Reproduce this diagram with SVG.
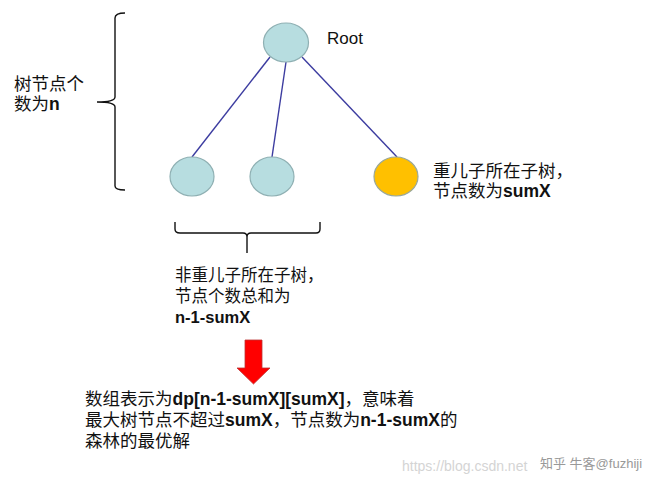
<svg xmlns="http://www.w3.org/2000/svg" width="654" height="486" viewBox="0 0 654 486">
<style>
.t{font-family:"Liberation Sans","Noto Sans CJK SC",sans-serif;font-size:17px;fill:#111}
.b{font-weight:bold}
.node{fill:#b7dde0;stroke:#8fb0b3;stroke-width:1.2}
.heavy{fill:#ffc000;stroke:#9aa89a;stroke-width:1.2}
.edge{stroke:#3c3ca0;stroke-width:1.4;fill:none}
.brace{stroke:#111;stroke-width:1.4;fill:none}
.wm{font-family:"Liberation Sans","Noto Sans CJK SC",sans-serif;font-size:14px}
</style>
<rect width="654" height="486" fill="#fff"/>
<g id="connectors">
<line class="edge" x1="270" y1="57" x2="192" y2="157"/>
<line class="edge" x1="286" y1="62" x2="272" y2="157"/>
<line class="edge" x1="302" y1="57" x2="397" y2="157"/>
</g>
<g id="root"><ellipse class="node" cx="286" cy="42.5" rx="22.5" ry="19.5"/><text class="t" x="327" y="44">Root</text></g>
<g id="child1"><ellipse class="node" cx="192" cy="176.5" rx="22" ry="19.5"/></g>
<g id="child2"><ellipse class="node" cx="272" cy="176.5" rx="22" ry="19.5"/></g>
<g id="heavy"><ellipse class="heavy" cx="396" cy="176.5" rx="22" ry="19.5"/>
<text class="t" x="433" y="177" style="font-size:17.5px">重儿子所在子树，</text>
<text class="t" x="433" y="197" style="font-size:17.5px">节点数为<tspan class="b">sumX</tspan></text></g>
<g id="left-brace">
<path class="brace" d="M125,13 Q115,13 115,18 L115,97 Q115,102 97,102 Q115,102 115,107 L115,186 Q115,190 125,190"/>
<text class="t" x="14" y="90" style="font-size:17.5px">树节点个</text>
<text class="t" x="14" y="110" style="font-size:17.5px">数为<tspan class="b">n</tspan></text>
</g>
<g id="bottom-brace">
<path class="brace" d="M175,222 L175,229 Q175,233 180,233 L243,233 Q247,233 247,237 L247,253 M247,237 Q247,233 251,233 L316,233 Q320,233 320,229 L320,222"/>
<text class="t" x="175" y="281" style="font-size:16.5px">非重儿子所在子树，</text>
<text class="t" x="175" y="302" style="font-size:16.5px">节点个数总和为</text>
<text class="t b" x="175" y="323" style="font-size:16.5px">n-1-sumX</text>
</g>
<g id="arrow"><path d="M245,340 L262,340 L262,368 L270,368 L253.5,384 L237,368 L245,368 Z" fill="#f00" stroke="#b33" stroke-width="0.8"/></g>
<g id="result">
<text class="t" x="85" y="405" style="font-size:17.5px">数组表示为<tspan class="b">dp[n-1-sumX][sumX]</tspan>，意味着</text>
<text class="t" x="85" y="426" style="font-size:17.5px">最大树节点不超过<tspan class="b">sumX</tspan>，节点数为<tspan class="b">n-1-sumX</tspan>的</text>
<text class="t" x="85" y="447" style="font-size:17.5px">森林的最优解</text>
</g>
<g id="watermark">
<text class="wm" x="402" y="471" fill="#d4d4d4">https://blog.csdn.net</text>
<text class="wm" x="540" y="468" fill="#999" style="font-size:13px">知乎 牛客@fuzhiji</text>
</g>
</svg>
